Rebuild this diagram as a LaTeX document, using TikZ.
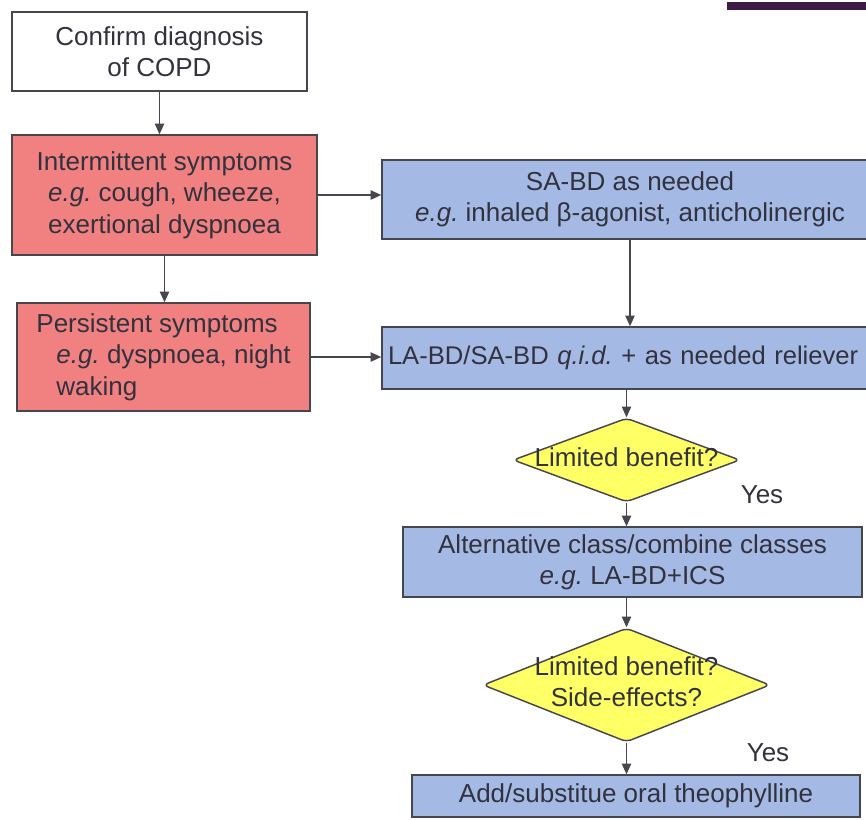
\documentclass[tikz,border=0pt]{standalone}
\usepackage{fontspec}
\setmainfont{Liberation Sans}
\usepackage{xcolor}
\usetikzlibrary{arrows.meta, positioning, shapes.geometric}

\newlength{\pxu}
\setlength{\pxu}{0.75pt}
\newcommand{\narrowtext}[1]{\makebox[0pt]{\begin{tabular}{@{}c@{}}#1\end{tabular}}}
\newcommand{\eg}{{\itshape e.g.}}

\definecolor{symptomred}{RGB}{241,128,128}
\definecolor{drugblue}{RGB}{164,185,227}
\definecolor{askyellow}{RGB}{255,255,102}
\definecolor{inkgray}{RGB}{50,50,62}
\definecolor{edgegray}{RGB}{70,70,78}
\definecolor{barpurple}{RGB}{60,27,70}

\begin{document}
\frenchspacing
\begin{tikzpicture}[
	  x=\pxu, y=-\pxu,
	  font=\fontsize{19.5}{23.5}\selectfont,
	  text=inkgray,
	  box/.style={
	    draw=edgegray,
	    line width=1.1pt,
	    align=center,
	    inner sep=0pt,
	    fill=white
	  },
	  symptombox/.style={box,fill=symptomred},
	  drugbox/.style={box,fill=drugblue},
	  decision/.style={
	    draw=edgegray,
	    line width=1.1pt,
	    shape=diamond,
	    rounded corners=4pt,
	    inner sep=0pt,
	    fill=askyellow
	  },
	  yeslabel/.style={inner sep=0pt},
	  arrow/.style={-{Triangle[length=8pt,width=7pt]},line width=1pt,draw=edgegray}
	]
	
	\clip (0,0) rectangle (866,819);
	\fill[white] (0,0) rectangle (866,819);
	\fill[barpurple] (727,2) rectangle (866,10);
	
	\node[box, minimum width=295\pxu, minimum height=79\pxu] (confirm) at (159.5,51.5) {Confirm diagnosis\\of COPD};
	\node[symptombox, minimum width=305\pxu, minimum height=120\pxu] (intermittent) at (164.5,195) {Intermittent symptoms\\\eg{} cough, wheeze,\\exertional dyspnoea};
	\node[symptombox, align=left, minimum width=293\pxu, minimum height=108\pxu] (persistent) at (163.5,357) {Persistent symptoms\\\hspace*{20\pxu}\eg{} dyspnoea, night\\\hspace*{20\pxu}waking};
	
	\node[drugbox, minimum width=496\pxu, minimum height=79\pxu] (sabd) at (630,199.5) {SA-BD as needed\\\eg{} inhaled β-agonist, anticholinergic};
	\node[drugbox, align=left, text width=496\pxu, minimum width=508\pxu, minimum height=62\pxu, font=\fontsize{19.2}{23.5}\selectfont] (labd) at (636,358) {LA-BD/SA-BD {\itshape q.i.d.} + as needed reliever};
	
	\node[decision, minimum width=227\pxu, minimum height=84\pxu] (benefit) at (626.5,460) {\narrowtext{Limited benefit?}};
	\node[drugbox, minimum width=459\pxu, minimum height=70\pxu] (alternative) at (632.5,562) {Alternative class/combine classes\\\eg{} LA-BD+ICS};
	\node[decision, minimum width=287\pxu, minimum height=114\pxu] (sideeffects) at (626.5,685) {\narrowtext{Limited benefit?\\Side-effects?}};
	\node[drugbox, minimum width=448\pxu, minimum height=42\pxu] (theophylline) at (636,796) {Add/substitue oral theophylline};
	
	\node[yeslabel] (yes1) at (762,495) {Yes};
	\node[yeslabel] (yes2) at (768,753) {Yes};
	
	\draw[arrow] (confirm.south) -- (confirm.south |- intermittent.north);
	\draw[arrow] (intermittent.south) -- (intermittent.south |- persistent.north);
	\draw[arrow] (intermittent.east) -- (intermittent.east -| sabd.west);
	\draw[arrow] (persistent.east) -- (persistent.east -| labd.west);
	\draw[arrow] (sabd.south) -- (sabd.south |- labd.north);
	\draw[arrow] (benefit.north |- labd.south) -- (benefit.north);
	\draw[arrow] (benefit.south) -- (benefit.south |- alternative.north);
	\draw[arrow] (sideeffects.north |- alternative.south) -- (sideeffects.north);
	\draw[arrow] (sideeffects.south) -- (sideeffects.south |- theophylline.north);
	
	\end{tikzpicture}
\end{document}
